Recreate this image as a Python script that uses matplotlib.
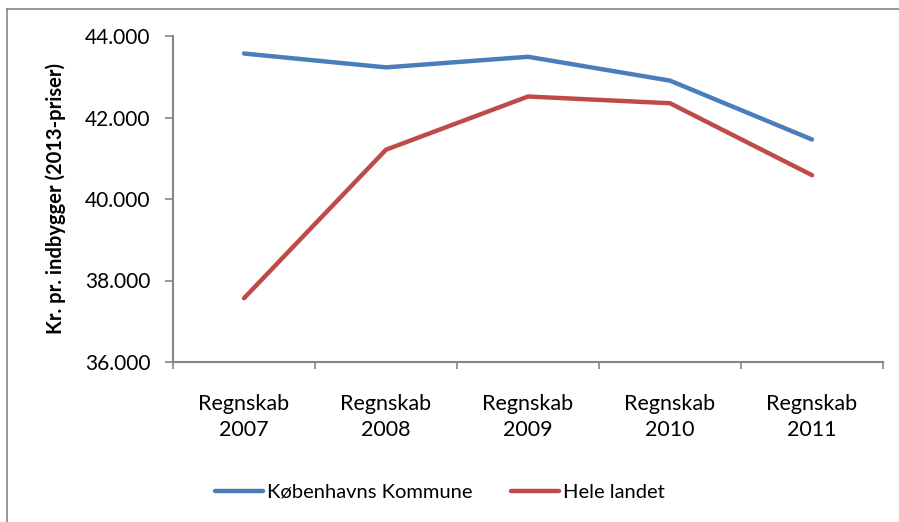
"""Udgifter pr. indbygger: Københavns Kommune vs. hele landet, 2007-2011."""
import matplotlib
matplotlib.use("Agg")
import matplotlib.pyplot as plt
from matplotlib.lines import Line2D

plt.rcParams["font.family"] = ["Lato", "DejaVu Sans"]

categories = ["Regnskab\n2007", "Regnskab\n2008", "Regnskab\n2009",
              "Regnskab\n2010", "Regnskab\n2011"]
kbh = [43570, 43230, 43490, 42905, 41460]
hele = [37565, 41210, 42515, 42350, 40585]
yticks = [36000, 38000, 40000, 42000, 44000]
ytick_labels = ["36.000", "38.000", "40.000", "42.000", "44.000"]

BLUE = "#4A7EBB"
RED = "#BE4B48"
GRAY = "#868686"

W, H = 899, 522
fig = plt.figure(figsize=(W / 100, H / 100), dpi=100)
# plot area in pixels: left 173, right 883, top 36, bottom 362
ax = fig.add_axes([173 / W, 1 - 362 / H, 710 / W, 326 / H])

x = range(len(categories))
ax.plot(x, kbh, color=BLUE, lw=3.2, solid_capstyle="round", solid_joinstyle="round")
ax.plot(x, hele, color=RED, lw=3.2, solid_capstyle="round", solid_joinstyle="round")

ax.set_xlim(-0.5, len(categories) - 0.5)
ax.set_ylim(36000, 44000)
ax.set_yticks(yticks)
ax.set_yticklabels(ytick_labels, fontsize=15)
ax.set_xticks([i - 0.5 for i in range(len(categories) + 1)])
ax.set_xticklabels([])
ax.set_xticks(list(x), minor=True)
ax.set_xticklabels(categories, minor=True, fontsize=15.5, linespacing=1.4)
ax.tick_params(axis="x", which="major", length=5, color=GRAY, width=1.2)
ax.tick_params(axis="x", which="minor", length=0, pad=23)
ax.tick_params(axis="y", length=6, color=GRAY, width=1.2, pad=10)

for side in ("top", "right"):
    ax.spines[side].set_visible(False)
for side in ("left", "bottom"):
    ax.spines[side].set_color(GRAY)
    ax.spines[side].set_linewidth(1.5)

ax.set_ylabel("Kr. pr. indbygger (2013-priser)", fontsize=14.5, fontweight="bold",
              labelpad=14)

handles = [Line2D([], [], color=BLUE, lw=3.2, solid_capstyle="round"),
           Line2D([], [], color=RED, lw=3.2, solid_capstyle="round")]
fig.legend(handles, ["Københavns Kommune", "Hele landet"], loc="center",
           bbox_to_anchor=(440 / W, 1 - 492 / H), ncol=2, frameon=False,
           fontsize=14.5, handlelength=2.4, handletextpad=0.2, columnspacing=1.9)

# chart-area border (only top and left edges fall inside the image)
fig.add_artist(Line2D([7 / W, 1], [1 - 9 / H, 1 - 9 / H], color=GRAY, lw=1.2,
                      transform=fig.transFigure))
fig.add_artist(Line2D([7 / W, 7 / W], [0, 1 - 9 / H], color=GRAY, lw=1.2,
                      transform=fig.transFigure))

fig.savefig("out.png", dpi=100)
